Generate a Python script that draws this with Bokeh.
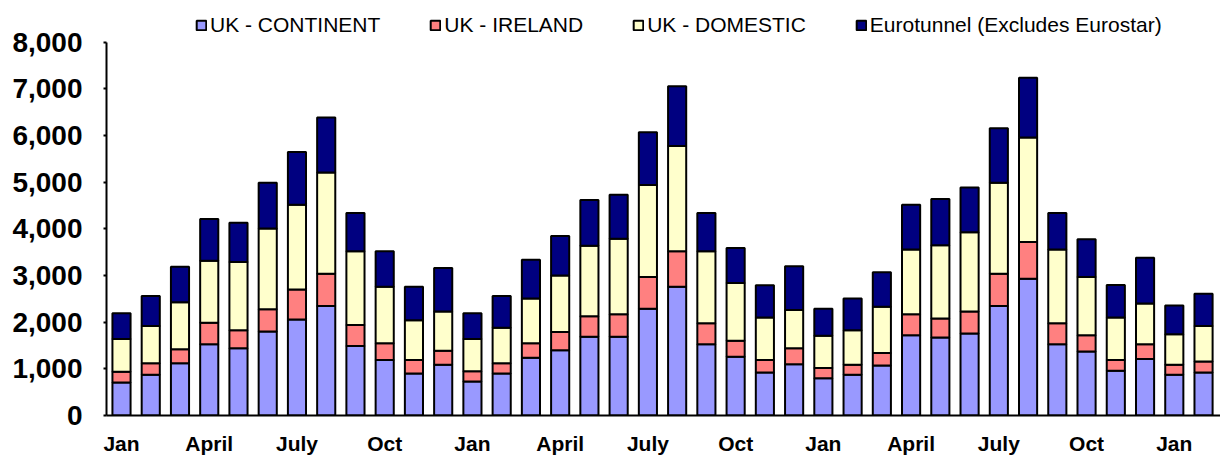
from bokeh.plotting import figure
from bokeh.models import (ColumnDataSource, Legend, LegendItem, FixedTicker,
                          NumeralTickFormatter, Range1d)
from bokeh.embed import file_html
from bokeh.resources import INLINE

months = ["Jan", "Feb", "Mar", "April", "May", "Jun", "July", "Aug", "Sep", "Oct", "Nov", "Dec",
          "Jan", "Feb", "Mar", "April", "May", "Jun", "July", "Aug", "Sep", "Oct", "Nov", "Dec",
          "Jan", "Feb", "Mar", "April", "May", "Jun", "July", "Aug", "Sep", "Oct", "Nov", "Dec",
          "Jan", "Feb"]
tick_months = ["Jan", "April", "July", "Oct"]

uk_continent = [710, 875, 1120, 1530, 1440, 1800, 2060, 2350, 1490, 1190, 900, 1090,
                730, 900, 1240, 1400, 1690, 1690, 2290, 2760, 1530, 1260, 920, 1100,
                800, 875, 1070, 1720, 1670, 1760, 2350, 2930, 1530, 1370, 960, 1210,
                875, 920]
uk_ireland = [230, 245, 300, 460, 390, 480, 640, 690, 450, 360, 290, 300,
              220, 220, 310, 390, 440, 480, 680, 760, 450, 340, 270, 340,
              220, 215, 270, 450, 410, 470, 690, 790, 450, 350, 230, 320,
              215, 240]
uk_domestic = [700, 800, 1010, 1330, 1460, 1730, 1820, 2170, 1580, 1210, 850, 840,
               690, 760, 960, 1210, 1510, 1620, 1970, 2260, 1540, 1240, 910, 820,
               690, 740, 990, 1390, 1570, 1700, 1950, 2240, 1580, 1250, 910, 870,
               650, 760]
eurotunnel = [550, 640, 760, 890, 840, 980, 1130, 1180, 820, 760, 720, 930,
              550, 680, 830, 850, 980, 940, 1130, 1280, 820, 750, 690, 940,
              580, 680, 740, 960, 990, 960, 1170, 1280, 780, 810, 700, 980,
              620, 690]

series_names = ["UK - CONTINENT", "UK - IRELAND", "UK - DOMESTIC", "Eurotunnel (Excludes Eurostar)"]
colors = ["#9999FF", "#FF8080", "#FFFFCC", "#000080"]
keys = ["cont", "irl", "dom", "euro"]

src = ColumnDataSource(dict(x=list(range(len(months))), month=months,
                            cont=uk_continent, irl=uk_ireland, dom=uk_domestic, euro=eurotunnel))

FONT = "Liberation Sans"

# frame spans y = 4 .. 417 px; 0..8000 maps to 417..42 px
p = figure(width=1220, height=457, output_backend="svg", toolbar_location=None,
           x_range=Range1d(-0.513, 37.58), y_range=Range1d(0, 8811),
           min_border_left=106, min_border_right=0, min_border_top=4, min_border_bottom=40)

renderers = p.vbar_stack(keys, x="x", width=0.62, color=colors, source=src,
                         line_color="black", line_width=2)

p.grid.visible = False
p.outline_line_color = None
p.background_fill_color = "white"

# axes
p.yaxis.ticker = FixedTicker(ticks=list(range(0, 8001, 1000)))
p.yaxis.bounds = (0, 8000)
p.yaxis.formatter = NumeralTickFormatter(format="0,0")
p.yaxis.major_label_text_font = FONT
p.yaxis.major_label_text_font_size = "28px"
p.yaxis.major_label_text_font_style = "bold"
p.yaxis.major_label_text_color = "black"
p.yaxis.major_tick_out = 3
p.yaxis.major_tick_in = 0
p.yaxis.minor_tick_out = 0
p.yaxis.minor_tick_in = 0
p.yaxis.major_label_standoff = 21
p.yaxis.axis_line_width = 2
p.yaxis.major_tick_line_width = 2

tick_pos = [i for i, m in enumerate(months) if m in tick_months]
p.xaxis.ticker = FixedTicker(ticks=tick_pos)
p.xaxis.major_label_overrides = {i: months[i] for i in tick_pos}
p.xaxis.major_label_text_font = FONT
p.xaxis.major_label_text_font_size = "21px"
p.xaxis.major_label_text_font_style = "bold"
p.xaxis.major_label_text_color = "black"
p.xaxis.major_tick_out = 0
p.xaxis.major_tick_in = 0
p.xaxis.minor_tick_out = 0
p.xaxis.minor_tick_in = 0
p.xaxis.major_label_standoff = 16
p.xaxis.axis_line_width = 2

legend = Legend(items=[LegendItem(label=n, renderers=[r]) for n, r in zip(series_names, renderers)],
                orientation="horizontal", location=(89, 378),
                glyph_width=12, glyph_height=12, label_standoff=3, spacing=49,
                padding=0, margin=0, border_line_color=None, background_fill_alpha=0,
                label_text_font=FONT, label_text_font_size="21px", label_text_color="black")
p.add_layout(legend, "center")

open("out.html", "w").write(file_html(p, INLINE))
